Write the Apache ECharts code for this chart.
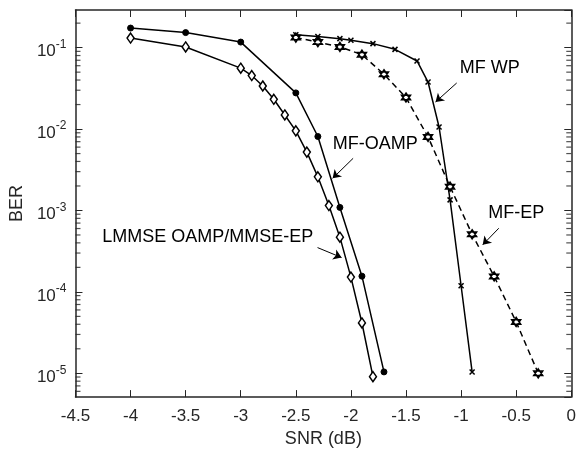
<!DOCTYPE html>
<html>
<head>
<meta charset="utf-8">
<script src="https://cdn.jsdelivr.net/npm/echarts@6/dist/echarts.min.js"></script>
<style>
html, body { margin: 0; padding: 0; background: #fff; }
#chart { width: 579px; height: 453px; }
</style>
</head>
<body>
<div id="chart"></div>
<script>
// data (SNR in dB, BER)
var snrMfOamp = [-4, -3.5, -3, -2.5, -2.3, -2.1, -1.9, -1.7];
var berMfOamp = [0.174, 0.153, 0.117, 0.0278, 0.0081, 1.09e-3, 1.56e-4, 1.04e-5];

var snrLmmse = [-4, -3.5, -3, -2.9, -2.8, -2.7, -2.6, -2.5, -2.4, -2.3, -2.2, -2.1, -2.0, -1.9, -1.8];
var berLmmse = [0.131, 0.102, 0.056, 0.0454, 0.0338, 0.0232, 0.0149, 0.0095, 0.00521, 0.00259, 1.15e-3, 4.7e-4, 1.52e-4, 4.15e-5, 9.1e-6];

var snrMfWp = [-2.5, -2.3, -2.1, -2.0, -1.8, -1.6, -1.4, -1.3, -1.2, -1.1, -1.0, -0.9];
var berMfWp = [0.144, 0.137, 0.129, 0.123, 0.112, 0.0953, 0.0686, 0.0378, 0.0106, 1.35e-3, 1.19e-4, 1.04e-5];

var snrMfEp = [-2.5, -2.3, -2.1, -1.9, -1.7, -1.5, -1.3, -1.1, -0.9, -0.7, -0.5, -0.3];
var berMfEp = [0.133, 0.117, 0.102, 0.082, 0.0471, 0.0244, 0.0080, 1.96e-3, 5.1e-4, 1.55e-4, 4.27e-5, 1.0e-5];

// axis setup
var xMin = -4.5, xMax = 0, xStep = 0.5;
var yMin = 5.1e-6, yMax = 0.29;
var decadeExponents = [-6, -5, -4, -3, -2, -1];
var minorMantissas = [2, 3, 4, 5, 6, 7, 8, 9];

// text labels with arrows: [text, textX, textY, arrowFromX, arrowFromY, arrowToX, arrowToY]
var annotations = [
    ['MF WP', -0.74, 0.0557, -1.04, 0.0368, -1.232, 0.0215],
    ['MF-OAMP', -1.78, 0.00653, -1.98, 0.00437, -2.166, 0.00248],
    ['MF-EP', -0.5, 9.3e-4, -0.658, 6.05e-4, -0.804, 3.78e-4],
    ['LMMSE OAMP/MMSE-EP', -3.3, 4.78e-4, -2.303, 3.5e-4, -2.085, 2.64e-4]
];

var FONT = 'Liberation Sans';
var INK = '#262626';

function pairs(xs, ys) {
    return xs.map(function (x, i) { return [x, ys[i]]; });
}

// log minor tick values (2..9 x 10^k) inside the y range
var minorValues = [];
decadeExponents.forEach(function (e) {
    minorMantissas.forEach(function (m) {
        var v = m * Math.pow(10, e);
        if (v > yMin && v < yMax) minorValues.push(v);
    });
});

function minorTickSeries(x, offset) {
    return {
        type: 'scatter', silent: true, clip: false, z: 5,
        data: minorValues.map(function (v) { return [x, v]; }),
        symbol: 'rect', symbolSize: [5, 1.2], symbolOffset: [offset, 0],
        itemStyle: { color: INK },
        emphasis: { disabled: true }
    };
}

var hexagram = 'path://M5,0L9.33,7.5L0.67,7.5Z M5,10L0.67,2.5L9.33,2.5Z';
var cross = 'path://M0,0L10,10M10,0L0,10';

var annoLines = annotations.map(function (a) {
    return [{ coord: [a[3], a[4]] }, { coord: [a[5], a[6]] }];
});
var annoTexts = annotations.map(function (a) {
    return { coord: [a[1], a[2]], value: a[0] };
});

var chart = echarts.init(document.getElementById('chart'));

var axisLineStyle = { show: true, onZero: false, lineStyle: { color: INK, width: 1.5 } };
var majorTick = { inside: true, length: 7, lineStyle: { color: INK, width: 1 } };

var logFormatter = function (v) {
    var e = Math.round(Math.log10(v));
    return '{b|10}{s|' + e + '}';
};

var option = {
    animation: false,
    textStyle: { fontFamily: FONT },
    grid: { left: 74, right: 4, top: 10, bottom: 55, containLabel: false },
    xAxis: [{
        type: 'value', min: xMin, max: xMax, interval: xStep,
        name: 'SNR (dB)', nameLocation: 'middle', nameGap: 29,
        nameTextStyle: { fontSize: 18, color: INK, fontFamily: FONT },
        axisLine: axisLineStyle,
        axisTick: majorTick,
        axisLabel: { fontSize: 17, color: INK, margin: 11, fontFamily: FONT },
        splitLine: { show: false }
    }, {
        type: 'value', min: xMin, max: xMax, interval: xStep, position: 'top',
        axisLine: axisLineStyle,
        axisTick: majorTick,
        axisLabel: { show: false },
        splitLine: { show: false }
    }],
    yAxis: [{
        type: 'log', min: yMin, max: yMax, logBase: 10,
        name: 'BER', nameLocation: 'middle', nameGap: 45,
        nameTextStyle: { fontSize: 18, color: INK, fontFamily: FONT },
        axisLine: axisLineStyle,
        axisTick: majorTick,
        axisLabel: {
            color: INK, margin: 9, showMinLabel: false, showMaxLabel: false,
            formatter: logFormatter, padding: [8, 0, 0, 0],
            rich: {
                b: { fontSize: 17, color: INK, fontFamily: FONT, lineHeight: 26 },
                s: { fontSize: 12, color: INK, fontFamily: FONT, lineHeight: 12, verticalAlign: 'top' }
            }
        },
        splitLine: { show: false }
    }, {
        type: 'log', min: yMin, max: yMax, logBase: 10, position: 'right',
        axisLine: axisLineStyle,
        axisTick: majorTick,
        axisLabel: { show: false },
        splitLine: { show: false }
    }],
    series: [
        minorTickSeries(xMin, 2.5),
        minorTickSeries(xMax, -2.5),
        {
            name: 'MF-OAMP', type: 'line', data: pairs(snrMfOamp, berMfOamp),
            symbol: 'circle', symbolSize: 6,
            lineStyle: { color: '#000', width: 1.5 },
            itemStyle: { color: '#000', borderColor: '#000', borderWidth: 1 },
            z: 3
        }, {
            name: 'LMMSE OAMP/MMSE-EP', type: 'line', data: pairs(snrLmmse, berLmmse),
            symbol: 'diamond', symbolSize: [7, 10],
            lineStyle: { color: '#000', width: 1.5 },
            itemStyle: { color: '#fff', borderColor: '#000', borderWidth: 1.5 },
            z: 3
        }, {
            name: 'MF WP', type: 'line', data: pairs(snrMfWp, berMfWp),
            symbol: cross, symbolSize: 5,
            lineStyle: { color: '#000', width: 1.5 },
            itemStyle: { color: '#000', borderColor: '#000', borderWidth: 1.5 },
            z: 3,
            markLine: {
                silent: true, symbol: ['none', 'arrow'], symbolSize: 8,
                label: { show: false },
                lineStyle: { color: '#000', width: 1, type: 'solid' },
                emphasis: { disabled: true },
                data: annoLines
            },
            markPoint: {
                silent: true, symbol: 'circle', symbolSize: 0,
                label: {
                    show: true, position: 'inside', fontSize: 18, color: '#000', fontFamily: FONT,
                    formatter: function (p) { return p.value; }
                },
                data: annoTexts
            }
        }, {
            name: 'MF-EP', type: 'line', data: pairs(snrMfEp, berMfEp),
            symbol: hexagram, symbolSize: 9,
            lineStyle: { color: '#000', width: 1.5, type: [6, 4] },
            itemStyle: { color: '#fff', borderColor: '#000', borderWidth: 1.5 },
            z: 4
        }
    ]
};

chart.setOption(option);
</script>
</body>
</html>
